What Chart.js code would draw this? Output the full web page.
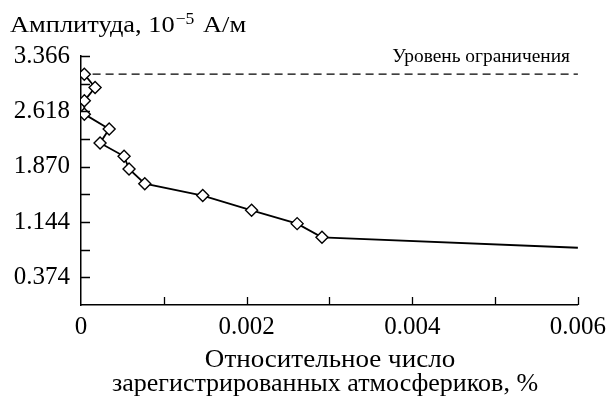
<!DOCTYPE html>
<html>
<head>
<meta charset="utf-8">
<script src="https://cdn.jsdelivr.net/npm/chart.js@4"></script>
<style>
  html, body { margin: 0; padding: 0; background: #fff; }
  #mChart { display: block; }
</style>
</head>
<body>
<canvas id="mChart" width="613" height="397"></canvas>
<script>
// data
var relCount = [0.00004, 0.00017, 0.00004, 0.00004, 0.00034, 0.00023, 0.00052, 0.00058, 0.00077, 0.00147, 0.00206, 0.00261, 0.00291, 0.006];
var amplitude = [3.12, 2.94, 2.76, 2.58, 2.38, 2.19, 2.01, 1.84, 1.64, 1.48, 1.28, 1.10, 0.915, 0.774];

// limit level (dashed)
var limitX = [0.00014, 0.006];
var limitLevel = 3.12;

// ticks
var yTickValues = [0.374, 0.748, 1.122, 1.496, 1.870, 2.244, 2.618, 2.992, 3.366];
var yTickLabels = ['0.374', '', '1.144', '', '1.870', '', '2.618', '', '3.366'];
var xTickValues = [0, 0.001, 0.002, 0.003, 0.004, 0.005, 0.006];
var xTickLabels = ['0', '', '0.002', '', '0.004', '', '0.006'];

var serif = '"Liberation Serif", "DejaVu Serif", serif';

var points = [];
for (var i = 0; i < relCount.length; i++) {
    points.push({ x: relCount[i], y: amplitude[i] });
}
var limitPoints = [];
for (var j = 0; j < limitX.length; j++) {
    limitPoints.push({ x: limitX[j], y: limitLevel });
}

// draw text a bit wider than the font gives (reference type is wide)
function wideText(c, txt, x, y, sx) {
    c.save();
    c.translate(x, y);
    c.scale(sx, 1);
    c.fillText(txt, 0, 0);
    c.restore();
    return c.measureText(txt).width * sx;
}

// inward tick marks + texts
var extras = {
    id: 'extras',
    afterDatasetsDraw: function(chart) {
        var c = chart.ctx;
        var xs = chart.scales.x, ys = chart.scales.y;
        var area = chart.chartArea;
        c.save();
        c.strokeStyle = '#000';
        c.lineWidth = 1.3;
        c.beginPath();
        for (var i = 0; i < yTickValues.length; i++) {
            var py = Math.round(ys.getPixelForValue(yTickValues[i])) + 0.5;
            c.moveTo(area.left, py);
            c.lineTo(area.left + 9, py);
        }
        for (var k = 1; k < xTickValues.length; k++) {
            var px = Math.round(xs.getPixelForValue(xTickValues[k])) + 0.5;
            c.moveTo(px, area.bottom);
            c.lineTo(px, area.bottom - 8);
        }
        c.stroke();

        c.fillStyle = '#000';
        c.textBaseline = 'alphabetic';

        // y title with superscript
        c.textAlign = 'left';
        c.font = '24px ' + serif;
        var w1 = wideText(c, 'Амплитуда, 10', 10, 32, 1.1);
        c.font = '16px ' + serif;
        var w2 = wideText(c, '\u22125', 10 + w1 + 1, 24, 1.1);
        c.font = '24px ' + serif;
        wideText(c, ' А/м', 10 + w1 + w2 + 3, 32, 1.1);

        // limit label
        c.textAlign = 'right';
        c.font = '19px ' + serif;
        wideText(c, 'Уровень ограничения', 570, 62, 1.02);

        // x title
        c.textAlign = 'center';
        c.font = '26px ' + serif;
        wideText(c, 'Относительное число', 330, 367, 1.04);
        wideText(c, 'зарегистрированных атмосфериков, %', 325, 391, 1.0);
        c.restore();
    }
};

var ctx = document.getElementById('mChart');
var myChart = new Chart(ctx, {
    type: 'scatter',
    data: {
        datasets: [
            {
                data: points,
                showLine: true,
                borderColor: '#000',
                borderWidth: 1.8,
                backgroundColor: '#fff',
                pointStyle: 'rectRot',
                pointRadius: function(c) { return c.dataIndex === relCount.length - 1 ? 0 : 6; },
                pointBorderWidth: 1.4,
                pointBorderColor: '#000',
                pointBackgroundColor: '#fff',
                order: 1
            },
            {
                data: limitPoints,
                showLine: true,
                borderColor: '#000',
                borderWidth: 1.3,
                borderDash: [8, 5],
                pointRadius: 0,
                order: 2
            }
        ]
    },
    options: {
        responsive: false,
        animation: false,
        layout: { padding: { top: 56, right: 32, left: 0, bottom: 0 } },
        plugins: { legend: { display: false }, tooltip: { enabled: false } },
        scales: {
            x: {
                type: 'linear',
                min: 0,
                max: 0.006,
                afterBuildTicks: function(s) {
                    s.ticks = xTickValues.map(function(v) { return { value: v }; });
                },
                afterFit: function(s) { s.height = 92; },
                grid: { drawOnChartArea: false, drawTicks: false },
                border: { color: '#000', width: 1.5 },
                ticks: {
                    color: '#000',
                    padding: 7,
                    maxRotation: 0,
                    autoSkip: false,
                    font: { family: serif, size: 25 },
                    callback: function(v, idx) { return xTickLabels[idx]; }
                }
            },
            y: {
                min: 0,
                max: 3.366,
                afterBuildTicks: function(s) {
                    s.ticks = yTickValues.map(function(v) { return { value: v }; });
                },
                afterFit: function(s) { s.width = 81; },
                grid: { drawOnChartArea: false, drawTicks: false },
                border: { color: '#000', width: 1.5 },
                ticks: {
                    color: '#000',
                    padding: 11,
                    autoSkip: false,
                    font: { family: serif, size: 25 },
                    callback: function(v, idx) { return yTickLabels[idx]; }
                }
            }
        }
    },
    plugins: [extras]
});
</script>
</body>
</html>
